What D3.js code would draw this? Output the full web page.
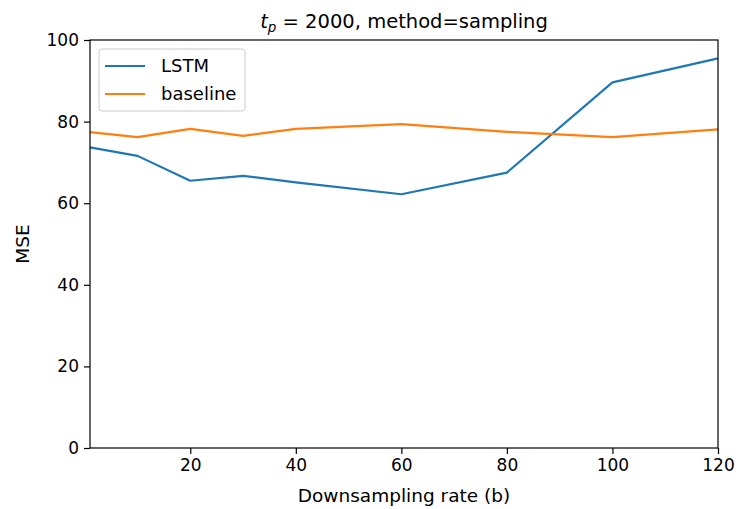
<!DOCTYPE html>
<html>
<head>
<meta charset="utf-8">
<script src="https://cdn.jsdelivr.net/npm/d3@7"></script>
<style>
  body { margin: 0; background: #fff; }
  svg text { font-family: "DejaVu Sans", sans-serif; fill: #000; }
</style>
</head>
<body>
<div id="chart"></div>
<script>
// downsampling rates on the x axis
const rates = [1, 10, 20, 30, 40, 60, 80, 100, 120];
const lstmMse = [73.7, 71.6, 65.5, 66.7, 65.1, 62.2, 67.5, 89.6, 95.5];
const baselineMse = [77.4, 76.2, 78.2, 76.5, 78.2, 79.4, 77.5, 76.2, 78.1];
const xTicks = [20, 40, 60, 80, 100, 120];
const yTicks = [0, 20, 40, 60, 80, 100];
const seriesNames = ['LSTM', 'baseline'];
const seriesColors = ['#1f77b4', '#ff7f0e'];

const width = 736, height = 509;
const margin = {top: 40, right: 18, bottom: 61, left: 90};

const svg = d3.select('#chart').append('svg')
    .attr('width', width)
    .attr('height', height);

const x = d3.scaleLinear().domain([1, 120]).range([margin.left, width - margin.right]);
const y = d3.scaleLinear().domain([0, 100]).range([height - margin.bottom, margin.top]);

// axes
const xAxis = svg.append('g')
    .attr('transform', `translate(0,${height - margin.bottom})`)
    .call(d3.axisBottom(x).tickValues(xTicks).tickSize(6).tickPadding(5));
const yAxis = svg.append('g')
    .attr('transform', `translate(${margin.left},0)`)
    .call(d3.axisLeft(y).tickValues(yTicks).tickSize(6).tickPadding(5));

[xAxis, yAxis].forEach(a => {
  a.select('.domain').remove();
  a.selectAll('.tick line').attr('stroke', '#000').attr('stroke-width', 1.2);
  a.selectAll('.tick text').style('font-size', '17px').attr('fill', '#000');
});

// lines
const line = d3.line()
    .x((d, i) => x(rates[i]))
    .y(d => y(d));

[lstmMse, baselineMse].forEach((vals, i) => {
  svg.append('path')
      .datum(vals)
      .attr('fill', 'none')
      .attr('stroke', seriesColors[i])
      .attr('stroke-width', 2.2)
      .attr('stroke-linejoin', 'round')
      .attr('d', line);
});

// frame
svg.append('rect')
    .attr('x', margin.left)
    .attr('y', margin.top)
    .attr('width', width - margin.left - margin.right)
    .attr('height', height - margin.top - margin.bottom)
    .attr('fill', 'none')
    .attr('stroke', '#000')
    .attr('stroke-width', 1.2);

// legend
const lg = svg.append('g').attr('transform', `translate(${margin.left + 9},${margin.top + 9})`);
lg.append('rect')
    .attr('width', 146).attr('height', 62)
    .attr('rx', 3)
    .attr('fill', '#fff').attr('fill-opacity', 0.8)
    .attr('stroke', '#ccc');
seriesNames.forEach((name, i) => {
  const yy = 17 + i * 28;
  lg.append('line')
      .attr('x1', 6).attr('x2', 46)
      .attr('y1', yy).attr('y2', yy)
      .attr('stroke', seriesColors[i]).attr('stroke-width', 2.2);
  lg.append('text')
      .attr('x', 62).attr('y', yy)
      .attr('dy', '0.35em')
      .style('font-size', '18px')
      .text(name);
});

// labels
svg.append('text')
    .attr('x', (margin.left + width - margin.right) / 2)
    .attr('y', 502)
    .attr('text-anchor', 'middle')
    .style('font-size', '18.5px')
    .text('Downsampling rate (b)');

svg.append('text')
    .attr('transform', `translate(29,${(margin.top + height - margin.bottom) / 2}) rotate(-90)`)
    .attr('text-anchor', 'middle')
    .style('font-size', '18.5px')
    .text('MSE');

const title = svg.append('text')
    .attr('x', (margin.left + width - margin.right) / 2)
    .attr('y', 28)
    .attr('text-anchor', 'middle')
    .style('font-size', '19.5px');
title.append('tspan').style('font-style', 'italic').text('t');
title.append('tspan').attr('dy', 4).style('font-size', '13.5px').style('font-style', 'italic').text('p');
title.append('tspan').attr('dy', -4).text(' = 2000, method=sampling');
</script>
</body>
</html>
